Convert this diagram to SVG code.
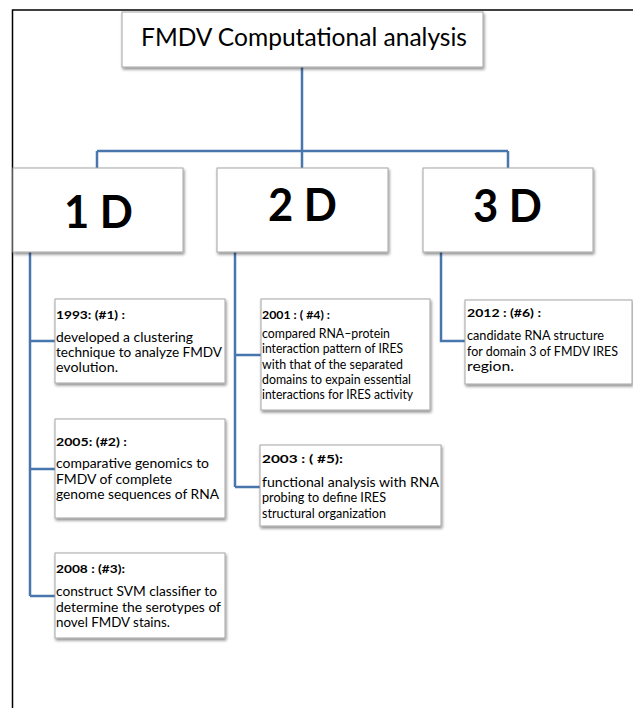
<svg xmlns="http://www.w3.org/2000/svg" width="633" height="708" viewBox="0 0 633 708">
<defs>
<filter id="sh" x="-10%" y="-10%" width="130%" height="140%">
<feGaussianBlur in="SourceAlpha" stdDeviation="1.5"/>
<feOffset dx="1" dy="2" result="b"/>
<feComponentTransfer><feFuncA type="linear" slope="0.45"/></feComponentTransfer>
<feMerge><feMergeNode/><feMergeNode in="SourceGraphic"/></feMerge>
</filter>
<style>
.box{fill:#fff;stroke:#a6a6a6;stroke-width:1;filter:url(#sh)}
.con{fill:none;stroke:#4a76ae;stroke-width:2.5}
.frame{fill:none;stroke:#000;stroke-width:1.5}
.t{font-family:Lato,"Liberation Sans",sans-serif;fill:#000}
.title{font-size:25px}
.big{font-size:46px;font-weight:bold}
.hd{font-size:11.5px;font-weight:bold}
.bd{font-size:13.5px}
</style>
</defs>
<rect width="633" height="708" fill="#fff"/>
<g id="frame">
<path class="frame" d="M12.5,708 V10 H633"/>
</g>
<g id="connectors">
<path class="con" d="M302,67 V151 M97,151 H508 M97,151 V168 M302,151 V168 M508,151 V168"/>
<path class="con" d="M30,252 V596 M30,341 H55 M30,469 H55 M30,596 H55"/>
<path class="con" d="M235,252 V487 M235,355 H261 M235,487 H260"/>
<path class="con" d="M441,252 V341 H465"/>
</g>
<g id="root">
<rect class="box" x="122" y="12" width="361" height="55"/>
<text class="t title" x="141" y="46" textLength="326" lengthAdjust="spacingAndGlyphs">FMDV Computational analysis</text>
</g>
<g id="n1d">
<rect class="box" x="13" y="168" width="170" height="84"/>
<text class="t big" x="64" y="228" textLength="69" lengthAdjust="spacingAndGlyphs">1 D</text>
</g>
<g id="n2d">
<rect class="box" x="217" y="168" width="171" height="84"/>
<text class="t big" x="268" y="221" textLength="69" lengthAdjust="spacingAndGlyphs">2 D</text>
</g>
<g id="n3d">
<rect class="box" x="423" y="168" width="170" height="84"/>
<text class="t big" x="473" y="222" textLength="69" lengthAdjust="spacingAndGlyphs">3 D</text>
</g>
<g id="n1">
<rect class="box" x="55" y="299" width="170" height="84"/>
<text class="t hd" x="56" y="319" textLength="69" lengthAdjust="spacingAndGlyphs">1993: (#1) :</text>
<text class="t bd" x="56" y="342" textLength="137" lengthAdjust="spacingAndGlyphs">developed a clustering</text>
<text class="t bd" x="56" y="357" textLength="166" lengthAdjust="spacingAndGlyphs">technique to analyze FMDV</text>
<text class="t bd" x="56" y="372" textLength="62" lengthAdjust="spacingAndGlyphs">evolution.</text>
</g>
<g id="n2">
<rect class="box" x="55" y="419" width="170" height="99"/>
<text class="t hd" x="56" y="446" textLength="71" lengthAdjust="spacingAndGlyphs">2005: (#2) :</text>
<text class="t bd" x="56" y="468" textLength="153" lengthAdjust="spacingAndGlyphs">comparative genomics to</text>
<text class="t bd" x="56" y="484" textLength="116" lengthAdjust="spacingAndGlyphs">FMDV of  complete</text>
<text class="t bd" x="56" y="499" textLength="163" lengthAdjust="spacingAndGlyphs">genome sequences  of RNA</text>
</g>
<g id="n3">
<rect class="box" x="55" y="553" width="170" height="85"/>
<text class="t hd" x="56" y="573" textLength="69" lengthAdjust="spacingAndGlyphs">2008 : (#3):</text>
<text class="t bd" x="56" y="596" textLength="161" lengthAdjust="spacingAndGlyphs">construct SVM classifier to</text>
<text class="t bd" x="56" y="612" textLength="165" lengthAdjust="spacingAndGlyphs">determine the serotypes  of</text>
<text class="t bd" x="56" y="627" textLength="114" lengthAdjust="spacingAndGlyphs">novel FMDV stains.</text>
</g>
<g id="n4">
<rect class="box" x="261" y="299" width="169" height="111"/>
<text class="t hd" x="262" y="319" textLength="68" lengthAdjust="spacingAndGlyphs">2001 : ( #4) :</text>
<text class="t bd" x="262" y="338" textLength="128" lengthAdjust="spacingAndGlyphs">compared RNA–protein</text>
<text class="t bd" x="262" y="353" textLength="141" lengthAdjust="spacingAndGlyphs">interaction pattern of IRES</text>
<text class="t bd" x="262" y="369" textLength="141" lengthAdjust="spacingAndGlyphs">with that of the separated</text>
<text class="t bd" x="262" y="384" textLength="149" lengthAdjust="spacingAndGlyphs">domains to expain essential</text>
<text class="t bd" x="262" y="399" textLength="151" lengthAdjust="spacingAndGlyphs">interactions for IRES activity</text>
</g>
<g id="n5">
<rect class="box" x="260" y="445" width="181" height="81"/>
<text class="t hd" x="262" y="463" textLength="81" lengthAdjust="spacingAndGlyphs">2003 : ( #5):</text>
<text class="t bd" x="262" y="487" textLength="177" lengthAdjust="spacingAndGlyphs">functional analysis with RNA</text>
<text class="t bd" x="262" y="502" textLength="124" lengthAdjust="spacingAndGlyphs">probing to define IRES</text>
<text class="t bd" x="262" y="518" textLength="124" lengthAdjust="spacingAndGlyphs">structural organization</text>
</g>
<g id="n6">
<rect class="box" x="465" y="300" width="167" height="84"/>
<text class="t hd" x="467" y="317" textLength="74" lengthAdjust="spacingAndGlyphs">2012 : (#6) :</text>
<text class="t bd" x="467" y="340" textLength="137" lengthAdjust="spacingAndGlyphs">candidate RNA structure</text>
<text class="t bd" x="467" y="356" textLength="151" lengthAdjust="spacingAndGlyphs">for domain 3 of FMDV IRES</text>
<text class="t bd" x="467" y="371" textLength="47" lengthAdjust="spacingAndGlyphs">region.</text>
</g>
</svg>
